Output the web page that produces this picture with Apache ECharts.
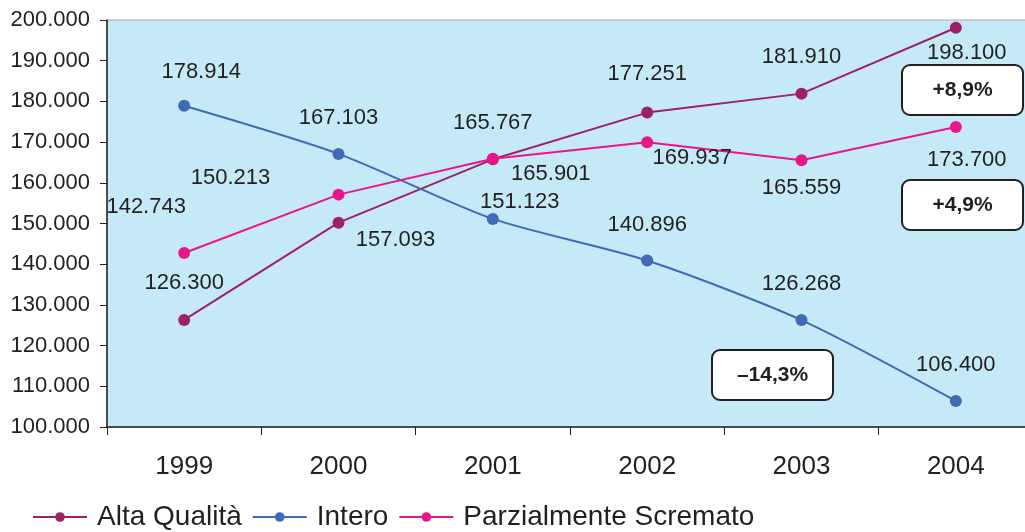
<!DOCTYPE html>
<html>
<head>
<meta charset="utf-8">
<script src="https://cdn.jsdelivr.net/npm/echarts@6/dist/echarts.min.js"></script>
<style>html,body{margin:0;padding:0;background:#fff;overflow:hidden}#c{width:1040px;height:532px}</style>
</head>
<body>
<div id="c"></div>
<script>
var years = ['1999', '2000', '2001', '2002', '2003', '2004'];
var altaQualita = [126300, 150213, 165767, 177251, 181910, 198100];
var intero = [178914, 167103, 151123, 140896, 126268, 106400];
var parzialmente = [142743, 157093, 165901, 169937, 165559, 173700];
var seriesNames = ['Alta Qualità', 'Intero', 'Parzialmente Scremato'];
var badges = ['+8,9%', '+4,9%', '\u201314,3%'];

function fmt(v) {
  var s = String(Math.round(v));
  return s.replace(/\B(?=(\d{3})+(?!\d))/g, '.');
}

// label offsets from each point (pixels)
var offAlta = [[0,-37],[-108,-45],[0,-36],[0,-39],[0,-37],[11,25]];
var offIntero = [[17,-34],[0,-36],[27,-17],[0,-36],[0,-36],[0,-36]];
var offParz = [[-38,-46],[57,45],[58,15],[45,16],[0,28],[11,33]];

function mk(vals, offs) {
  return vals.map(function (v, i) {
    return { value: v, label: { offset: offs[i] } };
  });
}

var font = 'Liberation Sans, Arial, sans-serif';
var chart = echarts.init(document.getElementById('c'));
var labelStyle = {
  show: true, position: 'inside', color: '#231f20', fontFamily: font, fontSize: 22,
  formatter: function (p) { return fmt(p.value); }
};
function series(name, vals, offs, color, smooth) {
  return {
    name: name, type: 'line', data: mk(vals, offs), smooth: smooth,
    symbol: 'circle', symbolSize: 12, showSymbol: true,
    lineStyle: { color: color, width: 2 },
    itemStyle: { color: color },
    label: labelStyle,
    z: 3
  };
}

function box(x, y, text) {
  return {
    type: 'group', x: x, y: y, z: 100,
    children: [
      { type: 'rect', shape: { x: 0, y: 0, width: 121, height: 50, r: 8 },
        style: { fill: '#fff', stroke: '#231f20', lineWidth: 2 } },
      { type: 'text', x: 60.5, y: 25,
        style: { text: text, fill: '#231f20', font: 'bold 21px ' + font, align: 'center', verticalAlign: 'middle' } }
    ]
  };
}

chart.setOption({
  animation: false,
  backgroundColor: '#fff',
  grid: {
    left: 107, right: 7, top: 20, bottom: 105,
    show: true, backgroundColor: '#c6e9f8', borderColor: '#a6a8ab', borderWidth: 1
  },
  legend: {
    left: 27, bottom: -4, itemWidth: 54, itemHeight: 12, itemGap: 10,
    textStyle: { fontFamily: font, fontSize: 28, color: '#231f20', padding: [0, 0, 0, 5] },
    data: seriesNames
  },
  xAxis: {
    type: 'category', data: years, boundaryGap: true,
    axisLine: { lineStyle: { color: '#231f20', width: 1.5 } },
    axisTick: { show: true, length: 8, lineStyle: { color: '#231f20' } },
    axisLabel: { margin: 27, fontFamily: font, fontSize: 26, color: '#231f20' },
    splitLine: { show: false }
  },
  yAxis: {
    type: 'value', min: 100000, max: 200000, interval: 10000,
    axisLine: { show: true, lineStyle: { color: '#231f20', width: 1.5 } },
    axisTick: { show: true, length: 7, lineStyle: { color: '#231f20' } },
    axisLabel: { margin: 17, fontFamily: font, fontSize: 22, color: '#231f20', formatter: fmt },
    splitLine: { show: false }
  },
  series: [
    series(seriesNames[0], altaQualita, offAlta, '#9c2263', false),
    series(seriesNames[1], intero, offIntero, '#3e6ab6', 0.25),
    series(seriesNames[2], parzialmente, offParz, '#e8168b', false)
  ],
  graphic: [
    box(902, 65, badges[0]),
    box(902, 180, badges[1]),
    box(712, 350, badges[2])
  ]
});
</script>
</body>
</html>
